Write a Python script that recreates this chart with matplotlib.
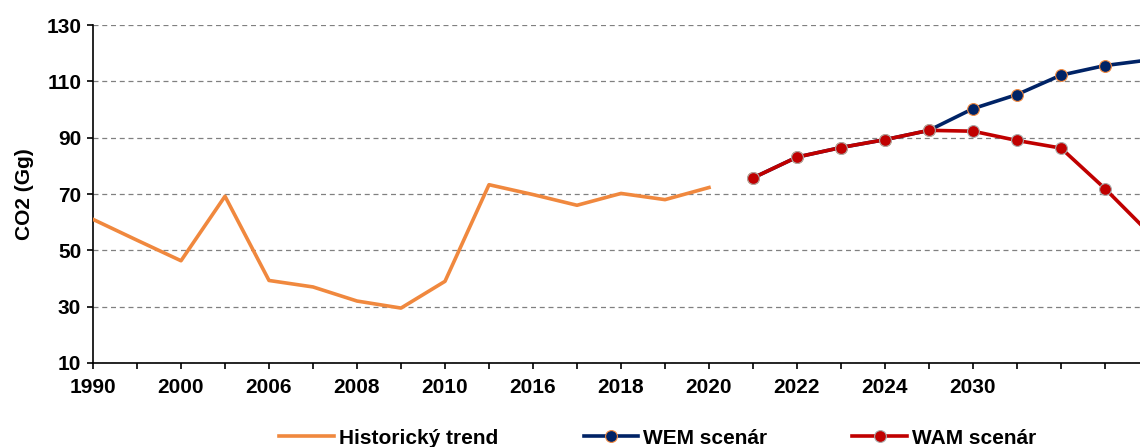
import matplotlib
matplotlib.use("Agg")
import matplotlib.pyplot as plt
import numpy as np

plt.rcParams['font.family'] = ['Liberation Sans', 'DejaVu Sans']
plt.rcParams['font.weight'] = 'bold'

# category labels (every other shown in the reference)
tick_labels = ["1990", "", "2000", "", "2006", "", "2008", "", "2010", "", "2016", "",
               "2018", "", "2020", "", "2022", "", "2024", "", "2030", "", "", "", ""]

hist = [61, 53.6, 46.3, 69.2, 39.3, 37, 32, 29.5, 39, 73.3, 69.8, 66, 70.2, 68, 72.3]
wem = [75.7, 83.1, 86.5, 89.3, 92.6, 100.3, 105.3, 112.2, 115.6, 117.6]
wam = [75.7, 83.1, 86.5, 89.3, 92.6, 92.3, 89.0, 86.3, 71.9, 56.2]

x_hist = np.arange(len(hist))
x_proj = np.arange(len(hist), len(hist) + len(wem))

fig = plt.figure(figsize=(11.4, 4.47), dpi=100)
ax = fig.add_axes([93/1140, 1-363/447, 1-93/1140, (363-25)/447])

orange = "#F0883E"
navy = "#002366"
red = "#C00000"

ax.plot(x_hist, hist, color=orange, lw=2.6, label="Historický trend", zorder=3)
ax.plot(x_proj, wem, color=navy, lw=2.6, marker='o', ms=8.5, mfc=navy, mec=orange,
        mew=0.8, label="WEM scenár", zorder=3)
ax.plot(x_proj, wam, color=red, lw=2.6, marker='o', ms=8.5, mfc=red, mec="#A9A9A9",
        mew=0.8, label="WAM scenár", zorder=4)

ax.set_ylim(10, 130)
ax.set_yticks(np.arange(10, 131, 20))
ax.set_xticks(np.arange(len(tick_labels)))
ax.set_xticklabels(tick_labels)
ax.set_xlim(0, (1140-93)/44)
ax.yaxis.grid(True, color="#808080", ls=(0, (4, 3)), lw=0.9)
ax.set_axisbelow(True)
for s in ['top', 'right']:
    ax.spines[s].set_visible(False)
for s in ['left', 'bottom']:
    ax.spines[s].set_linewidth(1.2)
    ax.spines[s].set_color("black")
ax.tick_params(axis='both', direction='out', length=4.5, width=1.2, labelsize=15)
ax.tick_params(axis='x', pad=6.5)
ax.tick_params(axis='y', pad=4)
for lab in ax.get_xticklabels() + ax.get_yticklabels():
    lab.set_fontweight('bold')
ax.set_ylabel("CO2 (Gg)", fontsize=15, fontweight='bold', labelpad=9)

fig.legend(loc='center', bbox_to_anchor=(0.577, 1-438/447), ncol=3, frameon=False,
           handlelength=2.6, columnspacing=4.1, handletextpad=0.25,
           prop={'weight': 'bold', 'size': 15})

fig.savefig("out.png", dpi=100)
